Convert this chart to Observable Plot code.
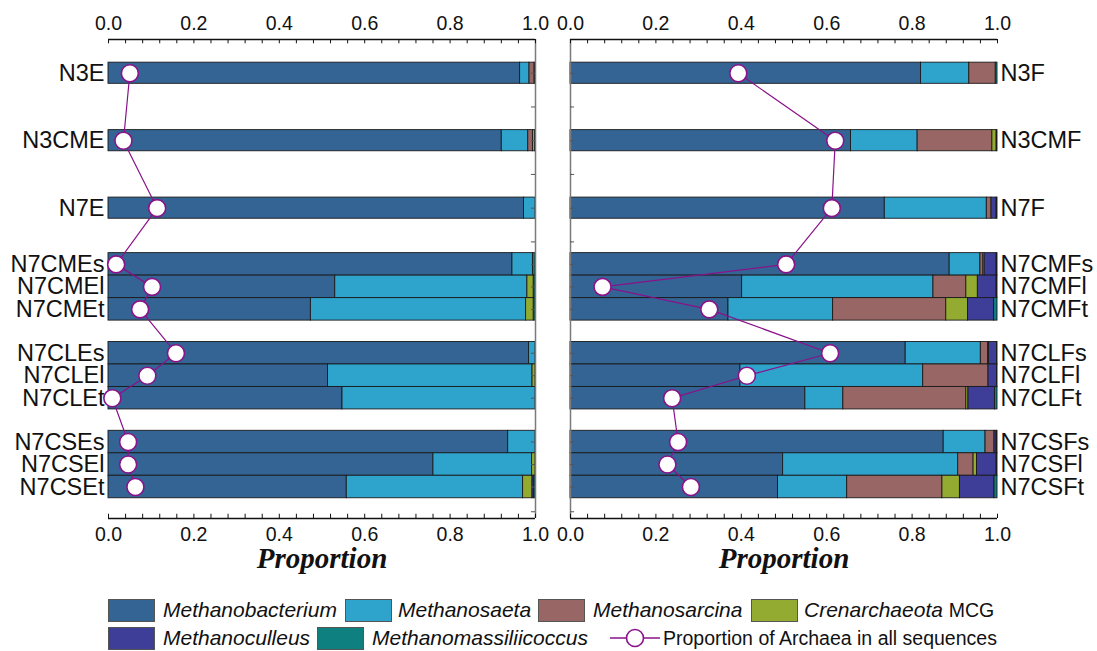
<!DOCTYPE html>
<html>
<head>
<meta charset="utf-8">
<script src="https://cdn.jsdelivr.net/npm/d3@7"></script>
<script src="https://cdn.jsdelivr.net/npm/@observablehq/plot@0.6"></script>
<style>
  body { margin: 0; background: #fff; font-family: 'Liberation Sans', Arial, sans-serif; }
  #wrap { position: relative; width: 1097px; height: 651px; overflow: hidden; }
  #charts { position: absolute; left: 0; top: 0; display: flex; }
  .sw { position: absolute; width: 45px; height: 21px; border: 1px solid #555; }
  .lt { position: absolute; font-size: 21px; line-height: 24px; color: #111; white-space: nowrap; }
  .lt i { font-style: italic; }
  .nm { font-size: 19.5px; }
</style>
</head>
<body>
<div id="wrap">
  <div id="charts"></div>
  <div id="legend"></div>
</div>
<script>
// ---------- data ----------
const genera = ["Methanobacterium", "Methanosaeta", "Methanosarcina", "Crenarchaeota MCG", "Methanoculleus", "Methanomassiliicoccus"];
const genusColors = ["#346494", "#2ea3cc", "#986664", "#93ab30", "#3e3e98", "#0e8080"];

const leftSamples = ["N3E", "N3CME", "N7E", "N7CMEs", "N7CMEl", "N7CMEt", "N7CLEs", "N7CLEl", "N7CLEt", "N7CSEs", "N7CSEl", "N7CSEt"];
const methanobacteriumL      = [0.964, 0.921, 0.973, 0.946, 0.531, 0.474, 0.985, 0.514, 0.548, 0.936, 0.761, 0.558];
const methanosaetaL          = [0.022, 0.062, 0.027, 0.048, 0.450, 0.504, 0.015, 0.479, 0.452, 0.064, 0.231, 0.413];
const methanosarcinaL        = [0.012, 0.011, 0, 0, 0, 0, 0, 0, 0, 0, 0, 0];
const crenarchaeotaL         = [0, 0.005, 0, 0, 0.015, 0.018, 0, 0.007, 0, 0, 0.008, 0.022];
const methanoculleusL        = [0, 0, 0, 0, 0, 0, 0, 0, 0, 0, 0, 0.004];
const methanomassiliicoccusL = [0.002, 0.001, 0, 0.006, 0.004, 0.004, 0, 0, 0, 0, 0, 0.003];
const archaeaL               = [0.050, 0.035, 0.114, 0.018, 0.102, 0.074, 0.158, 0.091, 0.009, 0.046, 0.046, 0.063];

const rightSamples = ["N3F", "N3CMF", "N7F", "N7CMFs", "N7CMFl", "N7CMFt", "N7CLFs", "N7CLFl", "N7CLFt", "N7CSFs", "N7CSFl", "N7CSFt"];
const methanobacteriumR      = [0.821, 0.657, 0.736, 0.888, 0.402, 0.370, 0.785, 0.398, 0.550, 0.874, 0.498, 0.486];
const methanosaetaR          = [0.113, 0.156, 0.239, 0.072, 0.448, 0.245, 0.176, 0.428, 0.089, 0.098, 0.410, 0.162];
const methanosarcinaR        = [0.062, 0.175, 0.011, 0.007, 0.077, 0.265, 0.017, 0.153, 0.288, 0.021, 0.036, 0.223];
const crenarchaeotaR         = [0, 0.010, 0, 0.003, 0.027, 0.051, 0.002, 0, 0.005, 0, 0.008, 0.041];
const methanoculleusR        = [0, 0, 0.012, 0.028, 0.044, 0.061, 0.019, 0.020, 0.062, 0.005, 0.046, 0.081];
const methanomassiliicoccusR = [0.004, 0.002, 0.002, 0.002, 0.002, 0.008, 0.001, 0.001, 0.006, 0.002, 0.002, 0.007];
const archaeaR               = [0.393, 0.620, 0.612, 0.505, 0.075, 0.325, 0.608, 0.413, 0.238, 0.252, 0.227, 0.282];

const xTicks = [0, 0.2, 0.4, 0.6, 0.8, 1.0];
const xMinorStep = 0.04;

// ---------- layout helpers (row slots in y units) ----------
const Y_MAX = 21.3;
function rowCenter(i) {
  if (i < 3) return 1.5 + 3 * i;
  const g = Math.floor((i - 3) / 3), j = (i - 3) % 3;
  return 10 + 3.95 * g + j;
}
function rowHalf(i) { return i < 3 ? 0.47 : 0.5; }

function buildRows(samples, series, archaea) {
  const segs = [], pts = [];
  samples.forEach((s, i) => {
    let acc = 0;
    const yc = rowCenter(i), h = rowHalf(i);
    series.forEach((arr, k) => {
      const v = arr[i];
      if (v > 0) segs.push({sample: s, genus: genera[k], x1: acc, x2: Math.min(1, acc + v), y1: yc - h, y2: yc + h});
      acc += v;
    });
    pts.push({sample: s, archaea: archaea[i], yc});
  });
  return {segs, pts};
}

const minor = d3.range(0, 1 + 1e-9, xMinorStep);
const purple = "#8a128a";

function panel(side, samples, series, archaea) {
  const {segs, pts} = buildRows(samples, series, archaea);
  const left = side === "left";
  const W = left ? 552 : 545;
  const edge = left ? 1 : 0;
  const tickLen = 0.0095;
  const vTicks = [...pts.map(d => d.yc), 3, 6, 9, 21];
  return Plot.plot({
    width: W,
    height: 590,
    marginTop: 39,
    marginBottom: 72,
    marginLeft: left ? 108 : 18,
    marginRight: left ? 17 : 100,
    style: {fontFamily: "'Liberation Sans', Arial, sans-serif", fontSize: "19px", color: "#111", background: "white", overflow: "visible"},
    x: {domain: [0, 1], axis: null},
    y: {domain: [0, Y_MAX], reverse: true, axis: null},
    color: {domain: genera, range: genusColors},
    marks: [
      Plot.rect(segs, {x1: "x1", x2: "x2", y1: "y1", y2: "y2", fill: "genus", stroke: "#1a1a1a", strokeWidth: 0.9}),
      // vertical inner line with small ticks
      Plot.ruleX([edge], {stroke: "#7a7a7a", strokeWidth: 1.5}),
      Plot.ruleY(vTicks, {x1: left ? 1 - tickLen : 0, x2: left ? 1 : tickLen, stroke: "#555", strokeWidth: 1}),
      // axis lines
      Plot.ruleY([0, Y_MAX], {stroke: "#111", strokeWidth: 1.3}),
      Plot.ruleX(minor, {y1: 0, y2: 0.19, stroke: "#111", strokeWidth: 1}),
      Plot.ruleX(minor, {y1: Y_MAX, y2: Y_MAX - 0.19, stroke: "#111", strokeWidth: 1}),
      Plot.axisX({anchor: "top", ticks: xTicks, tickFormat: d3.format(".1f"), tickSize: 0, tickPadding: 10, fontSize: 19.5}),
      Plot.axisX({anchor: "bottom", ticks: xTicks, tickFormat: d3.format(".1f"), tickSize: 0, tickPadding: 9, fontSize: 19.5}),
      // row labels
      Plot.text(pts, {x: left ? 0 : 1, y: "yc", text: "sample", textAnchor: left ? "end" : "start", dx: left ? -4 : 3, fontSize: 23.5, fill: "#111"}),
      // archaea proportion line
      Plot.line(pts, {x: "archaea", y: "yc", stroke: purple, strokeWidth: 1.2}),
      Plot.dot(pts, {x: "archaea", y: "yc", r: 8.5, fill: "white", stroke: purple, strokeWidth: 1.6}),
      Plot.text(["Proportion"], {frameAnchor: "bottom", lineAnchor: "middle", dy: 40, fontSize: 29, fontWeight: "bold", fontStyle: "italic", fontFamily: "'Liberation Serif', 'Times New Roman', serif", fill: "#111"})
    ]
  });
}

const charts = document.getElementById("charts");
charts.append(panel("left", leftSamples,
  [methanobacteriumL, methanosaetaL, methanosarcinaL, crenarchaeotaL, methanoculleusL, methanomassiliicoccusL], archaeaL));
charts.append(panel("right", rightSamples,
  [methanobacteriumR, methanosaetaR, methanosarcinaR, crenarchaeotaR, methanoculleusR, methanomassiliicoccusR], archaeaR));

// ---------- legend ----------
const legend = document.getElementById("legend");
const items = [
  {g: 0, sx: 108, tx: 163, row: 0},
  {g: 1, sx: 345, tx: 398, row: 0},
  {g: 2, sx: 538, tx: 593, row: 0},
  {g: 3, sx: 751, tx: 804, row: 0},
  {g: 4, sx: 108, tx: 163, row: 1},
  {g: 5, sx: 317, tx: 372, row: 1}
];
const rowTop = [599, 627];
items.forEach(it => {
  const sw = document.createElement("div");
  sw.className = "sw";
  sw.style.left = it.sx + "px";
  sw.style.top = rowTop[it.row] + "px";
  sw.style.background = genusColors[it.g];
  legend.append(sw);
  const t = document.createElement("div");
  t.className = "lt";
  t.style.left = it.tx + "px";
  t.style.top = (rowTop[it.row] - 1) + "px";
  const name = genera[it.g];
  if (name === "Crenarchaeota MCG") t.innerHTML = "<i>Crenarchaeota</i> <span class='nm'>MCG</span>";
  else t.innerHTML = "<i>" + name + "</i>";
  legend.append(t);
});
// line + circle symbol
const ns = "http://www.w3.org/2000/svg";
const sym = document.createElementNS(ns, "svg");
sym.setAttribute("width", 52); sym.setAttribute("height", 22);
sym.style.position = "absolute"; sym.style.left = "609px"; sym.style.top = "627px";
sym.innerHTML = `<line x1="1" y1="11" x2="51" y2="11" stroke="${purple}" stroke-width="1.3"/><circle cx="26" cy="11" r="8.5" fill="white" stroke="${purple}" stroke-width="1.6"/>`;
legend.append(sym);
const pt = document.createElement("div");
pt.className = "lt nm";
pt.style.left = "663px"; pt.style.top = "626px";
pt.textContent = "Proportion of Archaea in all sequences";
legend.append(pt);
</script>
</body>
</html>
